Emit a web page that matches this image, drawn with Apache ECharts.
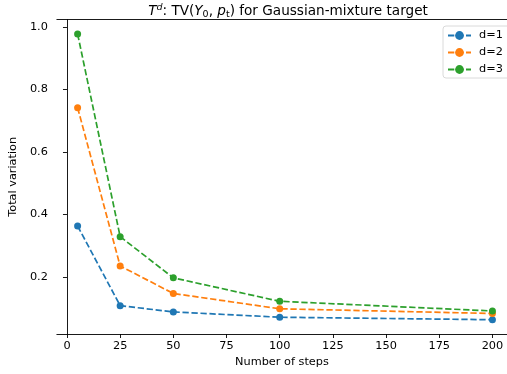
<!DOCTYPE html>
<html>
<head>
<meta charset="utf-8">
<script src="https://cdn.jsdelivr.net/npm/echarts@6/dist/echarts.min.js"></script>
<style>
  html, body { margin: 0; padding: 0; overflow: hidden; background: #fff; }
  #chart { width: 507px; height: 374px; }
</style>
</head>
<body>
<div id="chart"></div>
<script>
const steps = [5, 25, 50, 100, 200];
const tvD1 = [0.363, 0.108, 0.088, 0.071, 0.063];
const tvD2 = [0.742, 0.235, 0.147, 0.098, 0.083];
const tvD3 = [0.978, 0.329, 0.197, 0.122, 0.091];
const xTicks = [0, 25, 50, 75, 100, 125, 150, 175, 200];
const yTicks = [0.2, 0.4, 0.6, 0.8, 1.0];

const colors = { d1: '#1f77b4', d2: '#ff7f0e', d3: '#2ca02c' };
const font = 'DejaVu Sans';
const fs = 11.3;

// the original figure is cropped on the right, so the axis runs off the edge
const xMin = -4.75;
const xMax = 206.85;

const makeSeries = (name, values, color) => ({
  name,
  type: 'line',
  data: steps.map((s, i) => [s, values[i]]),
  symbol: 'circle',
  symbolSize: 7,
  showSymbol: true,
  lineStyle: { color, width: 1.7, type: [6.3, 2.7] },
  itemStyle: { color },
  emphasis: { disabled: true },
  animation: false
});

const chart = echarts.init(document.getElementById('chart'));
chart.setOption({
  animation: false,
  title: {
    text: '{i|T}{sup|d}: TV({i|Y}{sub|0}, {i|p}{sub|t}) for Gaussian-mixture target',
    left: 283,
    textAlign: 'center',
    top: -2,
    textStyle: {
      fontFamily: font,
      fontSize: 13.6,
      fontWeight: 'normal',
      color: '#000',
      rich: {
        i: { fontFamily: font, fontStyle: 'italic', fontSize: 13.6, color: '#000' },
        sup: { fontFamily: font, fontStyle: 'italic', fontSize: 9.5, color: '#000', verticalAlign: 'top', padding: [0, 0, 7, 0] },
        sub: { fontFamily: font, fontSize: 9.5, color: '#000', verticalAlign: 'bottom', padding: [6, 0, 0, 0] }
      }
    }
  },
  legend: {
    orient: 'vertical',
    left: 443,
    top: 26,
    padding: [4, 12, 3, 4],
    itemGap: 6,
    itemWidth: 23,
    itemHeight: 11,
    backgroundColor: 'rgba(255,255,255,0.8)',
    borderColor: '#d0d0d0',
    borderWidth: 0.8,
    borderRadius: 3,
    textStyle: { fontFamily: font, fontSize: fs, color: '#000', padding: [0, 0, 0, 3] },
    data: ['d=1', 'd=2', 'd=3']
  },
  grid: {
    left: 52.5,
    right: 0,
    top: 19.6,
    bottom: 40,
    show: false,
    containLabel: false
  },
  xAxis: [
    {
      type: 'value',
      min: xMin,
      max: xMax,
      name: 'Number of steps',
      nameLocation: 'middle',
      nameGap: 23,
      nameTextStyle: { fontFamily: font, fontSize: fs, color: '#000' },
      axisLine: { show: true, lineStyle: { color: '#000', width: 0.9 } },
      axisTick: { show: true, length: 4, lineStyle: { color: '#000', width: 0.9 }, customValues: xTicks },
      axisLabel: { fontFamily: font, fontSize: fs, color: '#000', margin: 7, customValues: xTicks },
      splitLine: { show: false }
    },
    {
      type: 'value',
      position: 'top',
      min: xMin,
      max: xMax,
      axisLine: { show: true, lineStyle: { color: '#000', width: 0.9 } },
      axisTick: { show: false },
      axisLabel: { show: false },
      splitLine: { show: false }
    }
  ],
  yAxis: {
    type: 'value',
    min: 0.0173,
    max: 1.0238,
    name: 'Total variation',
    nameLocation: 'middle',
    nameGap: 29,
    nameTextStyle: { fontFamily: font, fontSize: fs, color: '#000' },
    axisLine: { show: true, lineStyle: { color: '#000', width: 0.9 } },
    axisTick: { show: true, length: 4, lineStyle: { color: '#000', width: 0.9 }, customValues: yTicks },
    axisLabel: {
      fontFamily: font, fontSize: fs, color: '#000', margin: 9,
      customValues: yTicks,
      formatter: (v) => v.toFixed(1)
    },
    splitLine: { show: false }
  },
  series: [
    makeSeries('d=1', tvD1, colors.d1),
    makeSeries('d=2', tvD2, colors.d2),
    makeSeries('d=3', tvD3, colors.d3)
  ]
});
</script>
</body>
</html>
